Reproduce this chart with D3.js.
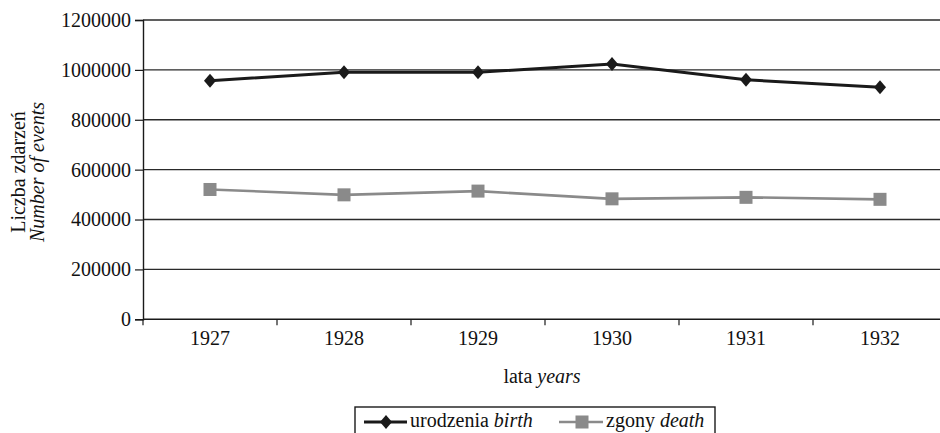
<!DOCTYPE html>
<html>
<head>
<meta charset="utf-8">
<script src="https://d3js.org/d3.v7.min.js"></script>
<style>
    body { margin: 0; background: #fff; }
    text { font-family: "Liberation Serif", "DejaVu Serif", serif; fill: #111; }
</style>
</head>
<body>
<script>
(function(){

//categories and series
var years = ["1927", "1928", "1929", "1930", "1931", "1932"];
var births = [956500, 990500, 990500, 1024000, 960000, 930500];
var deaths = [520500, 499000, 514000, 483000, 489000, 481000];
var yTicks = [0, 200000, 400000, 600000, 800000, 1000000, 1200000];

function setChart(){
    //frame dimensions
    var width = 940,
        height = 433,
        fontSize = "20px";

    var svg = d3.select("body")
        .append("svg")
        .attr("width", width)
        .attr("height", height);

    //scales - plot runs past right edge like in the scan
    var x = d3.scaleBand()
        .domain(years)
        .range([143, 947]);

    var y = d3.scaleLinear()
        .domain([0, 1200000])
        .range([319.3, 20]);

    //horizontal grid lines
    svg.selectAll(".grid")
        .data(yTicks.slice(1))
        .enter()
        .append("line")
        .attr("class", "grid")
        .attr("x1", 143)
        .attr("x2", width)
        .attr("y1", function(d){ return y(d); })
        .attr("y2", function(d){ return y(d); })
        .attr("stroke", "#2a2a2a")
        .attr("stroke-width", 1.4);

    //y axis
    var yAxis = svg.append("g")
        .attr("transform", "translate(143,0)")
        .call(d3.axisLeft(y).tickValues(yTicks).tickSize(8).tickPadding(4).tickFormat(d3.format("d")));
    yAxis.attr("font-family", null).attr("font-size", null);
    yAxis.select(".domain").attr("stroke", "#1a1a1a").attr("stroke-width", 1.4);
    yAxis.selectAll(".tick line").attr("stroke", "#1a1a1a").attr("stroke-width", 1.2);
    yAxis.selectAll("text")
        .style("font-size", fontSize)
        .attr("fill", "#111");

    //x axis with ticks between bands
    svg.append("line")
        .attr("x1", 143)
        .attr("x2", width)
        .attr("y1", y(0))
        .attr("y2", y(0))
        .attr("stroke", "#1a1a1a")
        .attr("stroke-width", 1.4);

    var bounds = years.map(function(d){ return x(d); });
    svg.selectAll(".xtick")
        .data(bounds)
        .enter()
        .append("line")
        .attr("class", "xtick")
        .attr("x1", function(d){ return d; })
        .attr("x2", function(d){ return d; })
        .attr("y1", y(0))
        .attr("y2", y(0) + 6)
        .attr("stroke", "#1a1a1a")
        .attr("stroke-width", 1.2);

    svg.selectAll(".xlabel")
        .data(years)
        .enter()
        .append("text")
        .attr("class", "xlabel")
        .attr("x", function(d){ return x(d) + x.bandwidth() / 2; })
        .attr("y", 345)
        .attr("text-anchor", "middle")
        .style("font-size", fontSize)
        .text(function(d){ return d; });

    //axis titles
    var xTitle = svg.append("text")
        .attr("x", 542)
        .attr("y", 383)
        .attr("text-anchor", "middle")
        .style("font-size", fontSize);
    xTitle.append("tspan").text("lata ");
    xTitle.append("tspan").style("font-style", "italic").text("years");

    var yTitle = svg.append("text")
        .attr("transform", "translate(25,172) rotate(-90)")
        .attr("text-anchor", "middle")
        .style("font-size", fontSize);
    yTitle.append("tspan").attr("x", 0).attr("y", 0).text("Liczba zdarzeń");
    yTitle.append("tspan").attr("x", 0).attr("y", 19).style("font-style", "italic").text("Number of events");

    //series lines
    var cx = function(d, i){ return x(years[i]) + x.bandwidth() / 2; };
    var line = d3.line()
        .x(cx)
        .y(function(d){ return y(d); });

    svg.append("path")
        .datum(deaths)
        .attr("d", line)
        .attr("fill", "none")
        .attr("stroke", "#8a8a8a")
        .attr("stroke-width", 2.6);

    svg.selectAll(".sq")
        .data(deaths)
        .enter()
        .append("rect")
        .attr("class", "sq")
        .attr("x", function(d, i){ return cx(d, i) - 6.5; })
        .attr("y", function(d){ return y(d) - 6.5; })
        .attr("width", 13)
        .attr("height", 13)
        .attr("fill", "#8a8a8a");

    svg.append("path")
        .datum(births)
        .attr("d", line)
        .attr("fill", "none")
        .attr("stroke", "#1a1a1a")
        .attr("stroke-width", 3);

    var diamond = "M0,-7L6,0L0,7L-6,0Z";
    svg.selectAll(".dm")
        .data(births)
        .enter()
        .append("path")
        .attr("class", "dm")
        .attr("d", diamond)
        .attr("transform", function(d, i){ return "translate(" + cx(d, i) + "," + y(d) + ")"; })
        .attr("fill", "#1a1a1a");

    //legend
    svg.append("rect")
        .attr("x", 355)
        .attr("y", 407)
        .attr("width", 360)
        .attr("height", 40)
        .attr("fill", "none")
        .attr("stroke", "#1a1a1a")
        .attr("stroke-width", 1.4);

    var ly = 422;
    svg.append("line")
        .attr("x1", 364).attr("x2", 407).attr("y1", ly).attr("y2", ly)
        .attr("stroke", "#1a1a1a").attr("stroke-width", 3);
    svg.append("path")
        .attr("d", diamond)
        .attr("transform", "translate(386," + ly + ")")
        .attr("fill", "#1a1a1a");
    var lt1 = svg.append("text").attr("x", 410).attr("y", 427).style("font-size", fontSize);
    lt1.append("tspan").text("urodzenia ");
    lt1.append("tspan").style("font-style", "italic").text("birth");

    svg.append("line")
        .attr("x1", 559).attr("x2", 603).attr("y1", ly).attr("y2", ly)
        .attr("stroke", "#8a8a8a").attr("stroke-width", 2.6);
    svg.append("rect")
        .attr("x", 575.5).attr("y", ly - 6.5).attr("width", 13).attr("height", 13)
        .attr("fill", "#8a8a8a");
    var lt2 = svg.append("text").attr("x", 606).attr("y", 427).style("font-size", fontSize);
    lt2.append("tspan").text("zgony ");
    lt2.append("tspan").style("font-style", "italic").text("death");
};

window.onload = setChart();
})();
</script>
</body>
</html>
